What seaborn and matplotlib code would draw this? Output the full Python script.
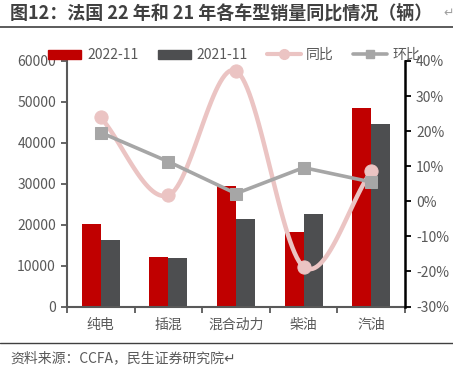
import numpy as np
import pandas as pd
import matplotlib
matplotlib.use("Agg")
import matplotlib.pyplot as plt
from matplotlib.ticker import FuncFormatter, MultipleLocator, FixedLocator
from matplotlib.lines import Line2D
from matplotlib.patches import Patch
import seaborn as sns

categories = ["纯电", "插混", "混合动力", "柴油", "汽油"]
sales_2022 = [20150, 12050, 29450, 18200, 48550]
sales_2021 = [16250, 11850, 21400, 22600, 44650]
yoy = [0.239, 0.017, 0.372, -0.187, 0.085]
mom = [0.196, 0.113, 0.022, 0.096, 0.055]
series_labels = ["2022-11", "2021-11"]
line_labels = ["同比", "环比"]
title = "图12：法国 22 年和 21 年各车型销量同比情况（辆）"
source = "资料来源：CCFA，民生证券研究院"

sns.set_theme(style="white")
plt.rcParams["font.family"] = ["Noto Sans CJK SC", "DejaVu Sans"]
plt.rcParams["axes.unicode_minus"] = False

RED = "#C00000"
DGRAY = "#4D4E50"
PINK = "#EBC4C3"
LGRAY = "#A6A6A6"
TXT = "#595959"

fig = plt.figure(figsize=(4.53, 3.73), dpi=100)
ax = fig.add_axes([67/453, 1-306.5/373, (405-67)/453, (306.5-61)/373])

df = pd.DataFrame({
    "cat": categories * 2,
    "val": sales_2022 + sales_2021,
    "series": [series_labels[0]] * 5 + [series_labels[1]] * 5,
})
sns.barplot(data=df, x="cat", y="val", hue="series", palette=[RED, DGRAY],
            width=0.56, gap=0, ax=ax, legend=False, saturation=1, linewidth=0, edgecolor="none")
ax.set_xlim(-0.5, 4.5)
ax.set_ylim(0, 60000)
ax.yaxis.set_major_locator(MultipleLocator(10000))
ax.set_xlabel("")
ax.set_ylabel("")
ax.tick_params(axis="x", which="major", length=0, pad=8, labelsize=10, labelcolor=TXT)
ax.xaxis.set_minor_locator(FixedLocator(np.arange(-0.5, 5, 1.0)))
ax.tick_params(axis="x", which="minor", length=4, width=1.3, color=TXT, direction="out", bottom=True)
ax.tick_params(axis="y", length=4, width=1.3, color=TXT, direction="out", left=True, labelsize=10, labelcolor=TXT, pad=4)
for s in ["top", "right"]:
    ax.spines[s].set_visible(False)
ax.spines["left"].set_color(TXT)
ax.spines["left"].set_linewidth(1.5)
ax.spines["bottom"].set_color(TXT)
ax.spines["bottom"].set_linewidth(1.5)

ax2 = ax.twinx()
x = np.arange(len(categories))
# smooth (Catmull-Rom) path through the yoy points
def catmull(xs, ys, n=30):
    xs = np.asarray(xs, float); ys = np.asarray(ys, float)
    px = np.concatenate([[2*xs[0]-xs[1]], xs, [2*xs[-1]-xs[-2]]])
    py = np.concatenate([[2*ys[0]-ys[1]], ys, [2*ys[-1]-ys[-2]]])
    ox, oy = [], []
    for i in range(1, len(px)-2):
        t = np.linspace(0, 1, n, endpoint=False)
        for arr, out in ((px, ox), (py, oy)):
            p0, p1, p2, p3 = arr[i-1], arr[i], arr[i+1], arr[i+2]
            out.extend(0.5*((2*p1) + (-p0+p2)*t + (2*p0-5*p1+4*p2-p3)*t**2 + (-p0+3*p1-3*p2+p3)*t**3))
    ox.append(xs[-1]); oy.append(ys[-1])
    return np.array(ox), np.array(oy)

sx, sy = catmull(x, yoy)
sns.lineplot(x=sx, y=sy, ax=ax2, color=PINK, linewidth=3.2, sort=False, zorder=3)
sns.scatterplot(x=x, y=yoy, ax=ax2, color=PINK, s=90, marker="o", edgecolor=PINK, zorder=4)
sns.lineplot(x=x, y=mom, ax=ax2, color=LGRAY, linewidth=2.6, marker="s", markersize=9,
             markeredgecolor=LGRAY, zorder=5)
ax2.set_ylim(-0.3, 0.4)
ax2.yaxis.set_major_locator(MultipleLocator(0.1))
ax2.yaxis.set_major_formatter(FuncFormatter(lambda v, p: f"{v*100:.0f}%"))
ax2.tick_params(axis="y", length=4, width=1.3, color="black", direction="out", right=True,
                labelsize=10, labelcolor=TXT, pad=4)
for s in ["top", "left", "bottom"]:
    ax2.spines[s].set_visible(False)
ax2.spines["right"].set_color("black")
ax2.spines["right"].set_linewidth(1.8)
ax2.set_ylabel("")
ax2.grid(False)
ax.grid(False)

handles = [
    Patch(facecolor=RED, edgecolor=RED),
    Patch(facecolor=DGRAY, edgecolor=DGRAY),
    Line2D([0], [0], color=PINK, lw=3, marker="o", markersize=7),
    Line2D([0], [0], color=LGRAY, lw=2.6, marker="s", markersize=6),
]
fig.legend(handles, series_labels + line_labels, loc="center", bbox_to_anchor=(234/453, 1-55/373),
           ncol=4, frameon=False, fontsize=10, handlelength=2.4, handleheight=0.6,
           columnspacing=1.4, handletextpad=0.4, labelcolor=TXT)

fig.text(10/453, 1-13/373, title, fontsize=13, fontweight="bold", color="#404040", va="center", ha="left")
fig.text(443/453, 1-13/373, "↵", fontsize=9, color="#A0A0A0", va="center", ha="left",
         family=["DejaVu Sans"])
fig.add_artist(Line2D([0, 1], [1-27/373, 1-27/373], color="#404040", lw=1.2, transform=fig.transFigure))
fig.add_artist(Line2D([0, 1], [1-343/373, 1-343/373], color="#404040", lw=1.0, transform=fig.transFigure))
fig.text(10/453, 1-358/373, source + "↵", fontsize=10, color=TXT, va="center", ha="left")

fig.savefig("out.png", dpi=100)
